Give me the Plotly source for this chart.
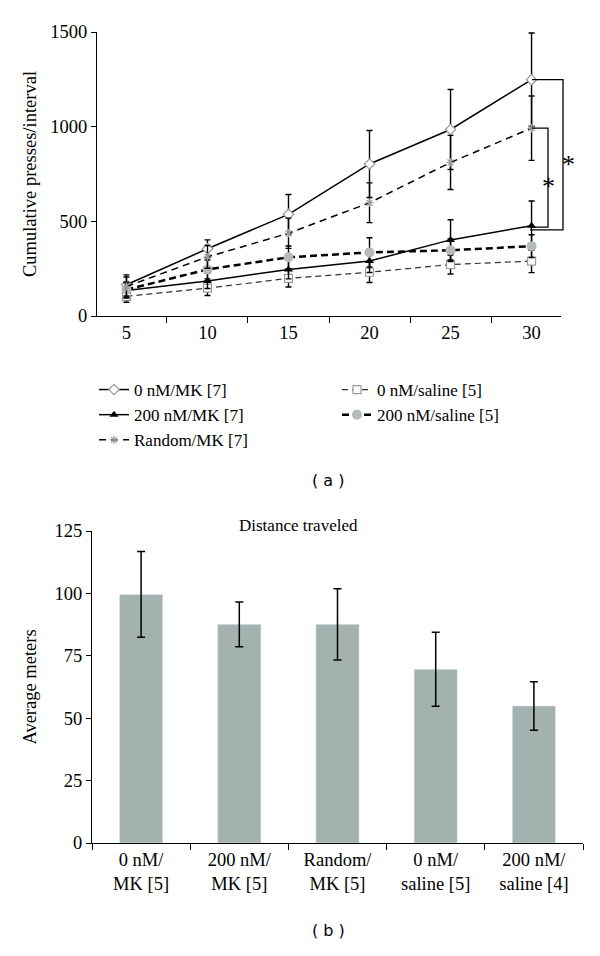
import plotly.graph_objects as go

# ---- panel (a): cumulative presses ----
minutes = ["5", "10", "15", "20", "25", "30"]

mk0 = [165, 355, 537, 803, 985, 1248]
mk0_err = [52, 47, 105, 177, 211, 247]
mk200 = [135, 185, 246, 290, 402, 477]
mk200_err = [40, 40, 50, 60, 106, 130]
rand_mk = [156, 312, 437, 598, 811, 992]
rand_mk_err = [50, 60, 80, 105, 143, 170]
sal0 = [104, 147, 199, 231, 272, 290]
sal0_err = [31, 39, 46, 54, 50, 61]
sal200 = [139, 246, 310, 336, 347, 369]
sal200_err = [40, 50, 60, 77, 60, 60]

# ---- panel (b): distance traveled ----
groups = ["0 nM/<br>MK [5]", "200 nM/<br>MK [5]", "Random/<br>MK [5]",
          "0 nM/<br>saline [5]", "200 nM/<br>saline [4]"]
meters = [99.6, 87.6, 87.6, 69.6, 54.9]
meters_err = [17.2, 9.0, 14.3, 14.8, 9.7]

SERIF = "Liberation Serif, Times New Roman, serif"
BAR = "#a3b1af"
GREY = "#9a9a9a"
FS = 18.5

# page body has an 8px margin, so the figure is offset by 8px
OFF = 8
W, H = 600 - OFF, 956 - OFF
def px_x(p): return (p - OFF) / W
def px_y(p): return 1 - (p - OFF) / H

fig = go.Figure()

def err(vals):
    return dict(type="data", array=vals, visible=True, color="black",
                thickness=1.4, width=3)

# trace order gives the 2-column legend order of the original
fig.add_trace(go.Scatter(
    x=minutes, y=mk0, name="0 nM/MK [7]", mode="lines+markers",
    line=dict(color="black", width=1.5),
    marker=dict(symbol="diamond", size=8, color="white", line=dict(color=GREY, width=1.2)),
    error_y=err(mk0_err), xaxis="x", yaxis="y"))
fig.add_trace(go.Scatter(
    x=minutes, y=sal0, name="0 nM/saline [5]", mode="lines+markers",
    line=dict(color="#333333", width=1.2, dash="6px,4px"),
    marker=dict(symbol="square", size=8, color="white", line=dict(color=GREY, width=1.2)),
    error_y=err(sal0_err), xaxis="x", yaxis="y"))
fig.add_trace(go.Scatter(
    x=minutes, y=mk200, name="200 nM/MK [7]", mode="lines+markers",
    line=dict(color="black", width=1.5),
    marker=dict(symbol="triangle-up", size=8, color="black"),
    error_y=err(mk200_err), xaxis="x", yaxis="y"))
fig.add_trace(go.Scatter(
    x=minutes, y=sal200, name="200 nM/saline [5]", mode="lines+markers",
    line=dict(color="black", width=2.5, dash="7px,4px"),
    marker=dict(symbol="circle", size=10, color="#b4bbb9"),
    error_y=err(sal200_err), xaxis="x", yaxis="y"))
fig.add_trace(go.Scatter(
    x=minutes, y=rand_mk, name="Random/MK [7]", mode="lines+markers",
    line=dict(color="black", width=1.5, dash="7px,5px"),
    marker=dict(symbol="asterisk", size=7, color=GREY, line=dict(color=GREY, width=1.1)),
    error_y=err(rand_mk_err), xaxis="x", yaxis="y"))

fig.add_trace(go.Bar(
    x=groups, y=meters, marker_color=BAR, showlegend=False,
    error_y=dict(type="data", array=meters_err, visible=True, color="black",
                 thickness=1.5, width=4),
    xaxis="x2", yaxis="y2"))

# significance brackets next to the last time point
ydom = [px_y(316), px_y(32)]
def vy(v): return ydom[0] + (ydom[1] - ydom[0]) * v / 1500

shapes = []
for top, bottom, xv in [(mk0[-1], mk200[-1] - 22, 563), (rand_mk[-1], mk200[-1] - 8, 548)]:
    shapes.append(dict(
        type="path", xref="paper", yref="paper",
        path=f"M {px_x(532)} {vy(top)} L {px_x(xv)} {vy(top)} L {px_x(xv)} {vy(bottom)} L {px_x(530)} {vy(bottom)}",
        line=dict(color="black", width=1.3)))

annotations = [
    dict(text="*", x=px_x(577), y=px_y(148), xref="paper", yref="paper", showarrow=False,
         font=dict(family=SERIF, size=26, color="black")),
    dict(text="*", x=px_x(557), y=px_y(170), xref="paper", yref="paper", showarrow=False,
         font=dict(family=SERIF, size=26, color="black")),
    dict(text="( a )", x=px_x(328), y=px_y(480), xref="paper", yref="paper", showarrow=False,
         font=dict(family="DejaVu Sans, Arial", size=16, color="black")),
    dict(text="( b )", x=px_x(328), y=px_y(942), xref="paper", yref="paper", showarrow=False,
         font=dict(family="DejaVu Sans, Arial", size=16, color="black")),
    dict(text="Distance traveled", x=px_x(298), y=px_y(525), xref="paper", yref="paper",
         showarrow=False, font=dict(family=SERIF, size=17, color="black")),
]

axis_common = dict(showline=True, linecolor="black", linewidth=1.3, ticks="outside",
                   tickcolor="black", showgrid=False, zeroline=False, automargin=False,
                   tickfont=dict(family=SERIF, size=FS, color="black"))

fig.update_layout(
    width=W, height=H,
    margin=dict(l=0, r=0, t=0, b=0, autoexpand=False),
    plot_bgcolor="white", paper_bgcolor="white",
    font=dict(family=SERIF, size=FS, color="black"),
    bargap=0.56,
    xaxis=dict(domain=[px_x(97), px_x(561)], anchor="y", type="category",
               tickson="boundaries", ticklen=6, **axis_common),
    yaxis=dict(domain=ydom, anchor="x", range=[0, 1500], dtick=500, ticklen=5,
               title=dict(text="Cumulative presses/interval", standoff=8,
                          font=dict(family=SERIF, size=FS)),
               **axis_common),
    xaxis2=dict(domain=[px_x(92), px_x(583)], anchor="y2", type="category",
                tickson="boundaries", ticklen=6, **axis_common),
    yaxis2=dict(domain=[px_y(843), px_y(531)], anchor="x2", range=[0, 125], dtick=25,
                ticklen=5,
                title=dict(text="Average meters", standoff=12,
                           font=dict(family=SERIF, size=FS)),
                **axis_common),
    legend=dict(orientation="h", x=px_x(94), y=px_y(372), xanchor="left", yanchor="top",
                entrywidth=198, entrywidthmode="pixels", traceorder="normal",
                font=dict(family=SERIF, size=17, color="black"),
                bgcolor="rgba(0,0,0,0)", itemwidth=30, tracegroupgap=0),
    shapes=shapes,
    annotations=annotations,
)

fig.write_html("out.html")
